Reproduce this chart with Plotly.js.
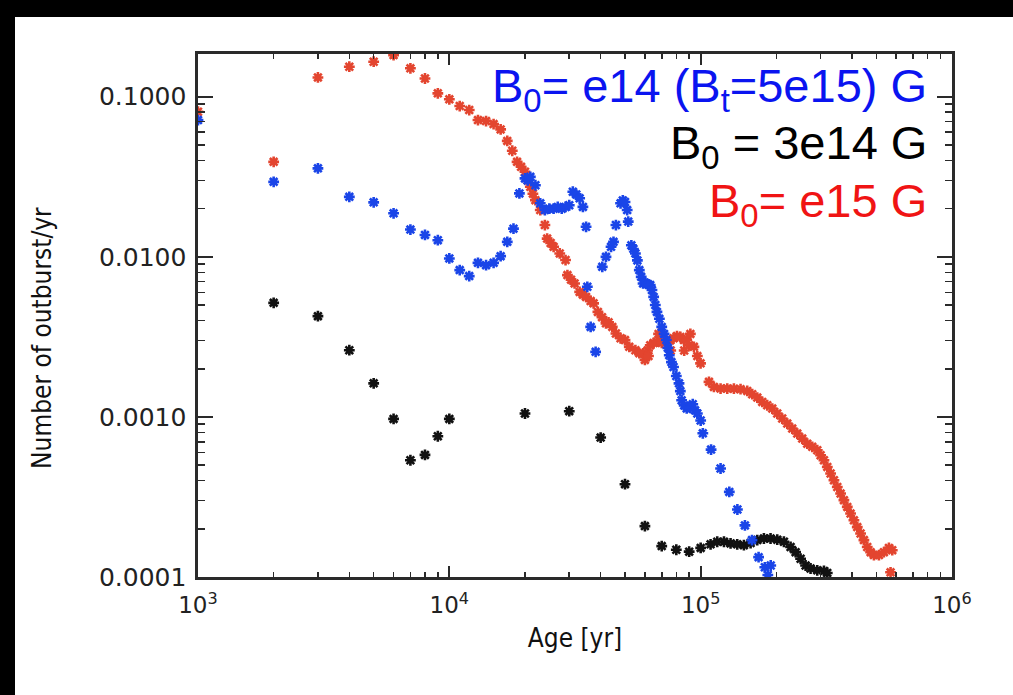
<!DOCTYPE html>
<html>
<head>
<meta charset="utf-8">
<script src="https://cdn.plot.ly/plotly-3.0.1.min.js"></script>
<style>
  html, body { margin: 0; padding: 0; background: #fff; width: 1013px; height: 695px; overflow: hidden; }
  #chart { position: absolute; left: 15px; top: 17px; width: 998px; height: 678px; background: #fff; }
  .band { position: absolute; background: #000; }
</style>
</head>
<body>
<div class="band" style="left:0;top:0;width:1013px;height:17px;"></div>
<div class="band" style="left:0;top:0;width:15px;height:695px;"></div>
<div id="chart"></div>
<script>
// Outburst rate vs. age for three initial field configurations

// B0 = 1e15 G (red)
const ageE15 = [1000, 2000, 3000, 4000, 5000, 6000, 7000, 8000, 9000, 10000,
  11000, 12000, 13000, 14000, 15000, 16000, 17000, 17800, 18600, 19300,
  20000, 20500, 21000, 21500, 22000, 23000, 24000, 24500, 25300, 26000,
  27500, 29000, 29500, 30500, 31500, 33000, 34000, 35000, 36500, 37500,
  39000, 40500, 42000, 43000, 44500, 46000, 48000, 50000, 52000, 55000,
  57000, 59000, 60000, 61500, 62000, 63000, 65000, 67000, 68000, 70000,
  73000, 75500, 76000, 78000, 80500, 83000, 85800, 86000, 88000, 90000,
  91000, 94000, 97000, 99900,
  107900, 112900, 120000, 127600, 135600, 144100, 153200, 160400, 168000, 175800,
  184000, 192700, 201700, 211100, 221100, 231400, 242300, 253600, 265500, 278000,
  291100, 300000, 309400, 319000, 328900, 339100, 349600, 360400, 371500, 383100,
  394900, 407200, 419800, 432800, 446200, 460000, 474400, 489000, 512000, 536000,
  561000, 578500, 569500];
const rateE15 = [0.0806, 0.0392, 0.132, 0.154, 0.1655, 0.182, 0.1505, 0.130, 0.105, 0.0964,
  0.0875, 0.0826, 0.0715, 0.0705, 0.0675, 0.0625, 0.053, 0.046, 0.0392, 0.0365,
  0.034, 0.030, 0.0274, 0.0248, 0.0226, 0.0196, 0.0158, 0.013, 0.0122, 0.01155,
  0.0105, 0.00955, 0.00769, 0.0072, 0.00682, 0.00604, 0.0058, 0.00562, 0.0053, 0.00512,
  0.00453, 0.0042, 0.00384, 0.0039, 0.00365, 0.00332, 0.0031, 0.00302, 0.00274, 0.00261,
  0.0025, 0.00249, 0.00227, 0.0026, 0.0024, 0.0028, 0.0029, 0.00295, 0.0033, 0.0029,
  0.00295, 0.0030, 0.0026, 0.0031, 0.0032, 0.00316, 0.00302, 0.0026, 0.00302, 0.0028,
  0.0033, 0.00274, 0.0024, 0.00216,
  0.001656, 0.00154, 0.001504, 0.001504, 0.0015, 0.00149, 0.001454, 0.001386, 0.001321, 0.00124,
  0.001183, 0.001128, 0.00105, 0.000977, 0.000909, 0.000846, 0.000787, 0.000732, 0.000681, 0.00065,
  0.000619, 0.000576, 0.000536, 0.000487, 0.000443, 0.000402, 0.000365, 0.000332, 0.000302, 0.000274,
  0.000249, 0.000226, 0.000205, 0.000187, 0.00017, 0.000154, 0.000143, 0.000137, 0.000137, 0.000143,
  0.000152, 0.000147, 0.000107];

// B0 = 3e14 G (black)
const ageE3 = [2000, 3000, 4000, 5000, 6000, 7000, 8000, 9000, 10000,
  20000, 30000, 40000, 50000, 60000, 70000, 80000, 90000,
  100000, 109500, 116400, 123800, 131500, 139800, 148600, 158000, 168000, 178500,
  189700, 201700, 214400, 227900, 238600, 249800, 261500, 273700, 291000, 309400, 318900];
const rateE3 = [0.00516, 0.00426, 0.00261, 0.00162, 0.000972, 0.000536, 0.000579, 0.000757, 0.000972,
  0.00105, 0.001086, 0.000743, 0.00038, 0.000208, 0.000156, 0.000148, 0.000144,
  0.000152, 0.00016, 0.000166, 0.000166, 0.000162, 0.00016, 0.000158, 0.000163, 0.00017, 0.000174,
  0.000174, 0.000171, 0.000166, 0.000154, 0.000143, 0.00013, 0.000118, 0.000113, 0.00011, 0.000109, 0.000106];

// B0 = 1e14 G with Bt = 5e15 G (blue)
const ageE14 = [1000, 2000, 3000, 4000, 5000, 6000, 7000, 8000, 9000, 10000,
  11000, 12000, 13000, 14000, 15000, 16000, 17000, 18000, 19000, 20000,
  20500, 21000, 22000, 23000, 24000, 25000, 26000, 27000, 28000, 29000,
  30000, 31000, 32000, 33000, 34000, 35000, 35400, 36500, 38200, 40600,
  42000, 44000, 45000, 46000, 48000, 49000, 50000, 51000, 51500, 53000,
  54000, 55000, 56000, 57000, 58000, 59000, 60000, 61000, 62000, 63000,
  64000, 65000, 66000, 67000, 68500, 70000, 71500, 73000, 74000, 75000,
  76500, 78000, 80000, 82000, 83000, 84000, 86000, 88000, 90000, 91000,
  93000, 95000, 97000, 100000, 102000, 110000,
  120000, 130000, 140000, 150000, 160000, 170000, 180000, 185000, 190000];
const rateE14 = [0.0715, 0.0294, 0.0357, 0.0237, 0.0219, 0.0187, 0.0148, 0.0137, 0.0127, 0.00977,
  0.00826, 0.00758, 0.00917, 0.00887, 0.00917, 0.0101, 0.0124, 0.0150, 0.0249, 0.0309,
  0.0300, 0.0316, 0.028, 0.0216, 0.0196, 0.0200, 0.0200, 0.0205, 0.0200, 0.0205,
  0.021, 0.0255, 0.0245, 0.0232, 0.0205, 0.0154, 0.0065, 0.00365, 0.00255, 0.00866,
  0.0100, 0.01155, 0.0124, 0.0158, 0.0216, 0.0225, 0.022, 0.0196, 0.0166, 0.0118,
  0.0112, 0.0105, 0.0095, 0.00826, 0.0075, 0.00682, 0.0069, 0.0068, 0.0067, 0.00666,
  0.0062, 0.00562, 0.0050, 0.00453, 0.0041, 0.00365, 0.0033, 0.00302, 0.0027, 0.00243,
  0.0022, 0.00205, 0.0018, 0.00162, 0.00145, 0.00127, 0.00118, 0.00113, 0.00115, 0.00114,
  0.0012, 0.0011, 0.00105, 0.00095, 0.00079, 0.000625,
  0.000476, 0.00034, 0.000264, 0.00021, 0.00017, 0.000133, 0.000115, 0.000103, 0.000118];

// Axis ticks and titles
const xTickVals = [1e3, 1e4, 1e5, 1e6];
const xTickText = ['10<sup>3</sup>', '10<sup>4</sup>', '10<sup>5</sup>', '10<sup>6</sup>'];
const yTickVals = [1e-4, 1e-3, 1e-2, 1e-1];
const yTickText = ['0.0001', '0.0010', '0.0100', '0.1000'];
const xTitle = 'Age [yr]';
const yTitle = 'Number of outburst/yr';

// Legend lines
const legendLines = [
  { text: 'B<sub>0</sub>= e14 (B<sub>t</sub>=5e15) G', color: '#0a14f0' },
  { text: 'B<sub>0</sub> = 3e14 G', color: '#000000' },
  { text: 'B<sub>0</sub>= e15 G', color: '#f01414' }
];

function minorTicks(firstExp, lastExp) {
  const out = [];
  for (let e = firstExp; e <= lastExp; e++) {
    for (let m = 2; m <= 9; m++) out.push(m * Math.pow(10, e));
  }
  return out;
}

const axisColor = '#2a2a2a';
const tickFamily = 'DejaVu Sans, Verdana, sans-serif';
const titleFamily = 'DejaVu Sans Condensed, Liberation Sans Narrow, DejaVu Sans, sans-serif';

function series(x, y, color) {
  return {
    type: 'scatter', mode: 'markers', x: x, y: y,
    marker: { symbol: 'asterisk-open', size: 9, color: color, line: { color: color, width: 2.6 } },
    hoverinfo: 'skip', showlegend: false
  };
}

const data = [
  series(ageE3, rateE3, '#111111'),
  series(ageE15, rateE15, '#e3452f'),
  series(ageE14, rateE14, '#1a45e8')
];

const legendY = [0.933, 0.825, 0.714];
const annotations = legendLines.map((l, i) => ({
  xref: 'paper', yref: 'paper', x: 0.970, y: legendY[i],
  xanchor: 'right', yanchor: 'middle', showarrow: false,
  text: l.text, font: { family: 'Liberation Sans, Arial, sans-serif', size: 47, color: l.color }
}));

// vertical axis title, placed a little below the middle of the axis
annotations.push({
  xref: 'paper', yref: 'paper', x: -0.207, y: 0.457,
  xanchor: 'center', yanchor: 'middle', showarrow: false, textangle: -90,
  text: yTitle, font: { family: titleFamily, size: 26, color: '#111' }
});

const layout = {
  width: 998, height: 678,
  margin: { l: 183, r: 61, t: 37, b: 118 },
  paper_bgcolor: '#ffffff', plot_bgcolor: '#ffffff',
  showlegend: false,
  xaxis: {
    type: 'log', range: [3, 6],
    tickmode: 'array', tickvals: xTickVals, ticktext: xTickText,
    ticks: 'inside', ticklen: 11, tickwidth: 2, tickcolor: axisColor,
    minor: { tickmode: 'array', tickvals: minorTicks(3, 5), ticks: 'inside', ticklen: 5, tickwidth: 1.6, tickcolor: axisColor },
    showline: true, linewidth: 2.6, linecolor: axisColor, mirror: 'allticks',
    showgrid: false, zeroline: false,
    tickfont: { family: tickFamily, size: 23, color: '#222' }, ticklabelstandoff: 6,
    title: { text: xTitle, font: { family: titleFamily, size: 26, color: '#111' }, standoff: 12 }
  },
  yaxis: {
    type: 'log', range: [-4, -0.733],
    tickmode: 'array', tickvals: yTickVals, ticktext: yTickText,
    ticks: 'inside', ticklen: 15, tickwidth: 2, tickcolor: axisColor,
    minor: { tickmode: 'array', tickvals: minorTicks(-4, -1), ticks: 'inside', ticklen: 7, tickwidth: 1.6, tickcolor: axisColor },
    showline: true, linewidth: 2.6, linecolor: axisColor, mirror: 'allticks',
    showgrid: false, zeroline: false,
    tickfont: { family: tickFamily, size: 25, color: '#222' }, ticklabelstandoff: 4
  },
  annotations: annotations
};

Plotly.newPlot('chart', data, layout, { staticPlot: true, displayModeBar: false });
</script>
</body>
</html>
